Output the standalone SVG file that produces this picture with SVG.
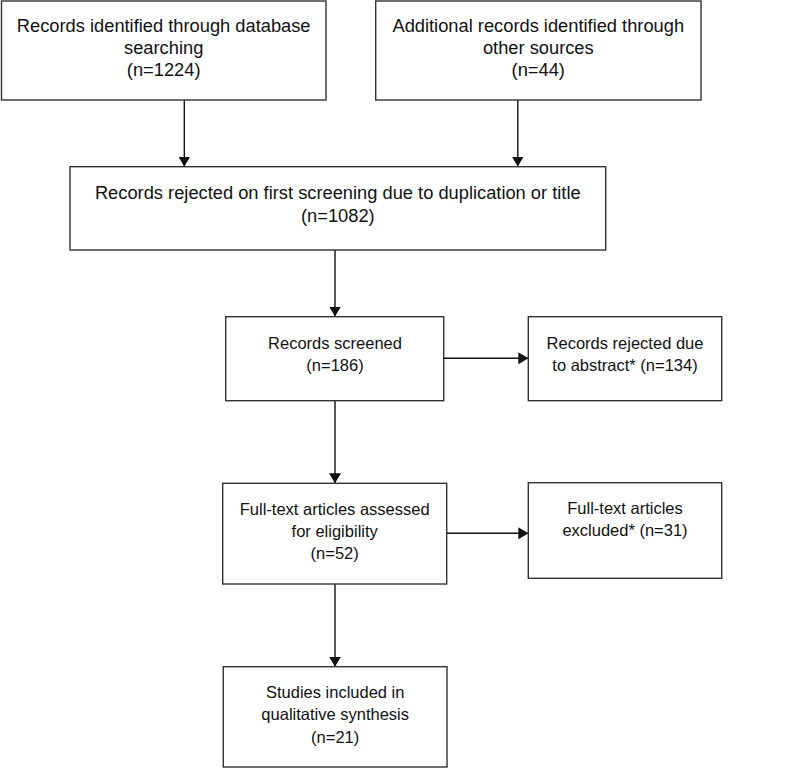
<svg xmlns="http://www.w3.org/2000/svg" width="785" height="768" viewBox="0 0 785 768">
<defs>
<style>
.box{fill:#fff;stroke:#333;stroke-width:1.4}
.t{font-family:"Liberation Sans",Arial,sans-serif;font-size:16.5px;fill:#111;text-anchor:middle}
.tl{font-size:18.3px}
.c{stroke:#111;stroke-width:1.4;fill:none;marker-end:url(#ah)}
</style>
<marker id="ah" viewBox="0 0 10 12" refX="10" refY="6" markerWidth="10" markerHeight="12" markerUnits="userSpaceOnUse" orient="auto">
<path d="M0,0 L10,6 L0,12 Z" fill="#111"/>
</marker>
</defs>
<rect width="785" height="768" fill="#fff"/>
<g id="connectors">
<line class="c" x1="184.3" y1="100" x2="184.3" y2="166.5"/>
<line class="c" x1="517.8" y1="100" x2="517.8" y2="166.5"/>
<line class="c" x1="335" y1="250" x2="335" y2="316.5"/>
<line class="c" x1="443.7" y1="358.3" x2="528.3" y2="358.3"/>
<line class="c" x1="335" y1="400.7" x2="335" y2="483.3"/>
<line class="c" x1="446.7" y1="533.3" x2="528.3" y2="533.3"/>
<line class="c" x1="335" y1="584" x2="335" y2="666.7"/>
</g>
<g id="n1">
<rect class="box" x="1.5" y="1" width="324.5" height="99"/>
<text class="t tl" x="163.7" y="32">Records identified through database</text>
<text class="t tl" x="163.7" y="54">searching</text>
<text class="t tl" x="163.7" y="76">(n=1224)</text>
</g>
<g id="n2">
<rect class="box" x="375.7" y="1" width="325.3" height="99"/>
<text class="t tl" x="538.3" y="32">Additional records identified through</text>
<text class="t tl" x="538.3" y="54">other sources</text>
<text class="t tl" x="538.3" y="76">(n=44)</text>
</g>
<g id="n3">
<rect class="box" x="70" y="166.7" width="535.7" height="83.3"/>
<text class="t tl" x="337.8" y="199">Records rejected on first screening due to duplication or title</text>
<text class="t tl" x="337.8" y="221.7">(n=1082)</text>
</g>
<g id="n4">
<rect class="box" x="225.7" y="316.7" width="218" height="84"/>
<text class="t" x="335" y="348.7">Records screened</text>
<text class="t" x="335" y="370.7">(n=186)</text>
</g>
<g id="n5">
<rect class="box" x="528.3" y="316.7" width="193.4" height="84"/>
<text class="t" x="625" y="348.7">Records rejected due</text>
<text class="t" x="625" y="370.7">to abstract* (n=134)</text>
</g>
<g id="n6">
<rect class="box" x="222.7" y="483.3" width="224" height="100.7"/>
<text class="t" x="334.7" y="515">Full-text articles assessed</text>
<text class="t" x="334.7" y="537">for eligibility</text>
<text class="t" x="334.7" y="559.3">(n=52)</text>
</g>
<g id="n7">
<rect class="box" x="528.3" y="482.7" width="193.4" height="95.6"/>
<text class="t" x="625" y="514">Full-text articles</text>
<text class="t" x="625" y="536">excluded* (n=31)</text>
</g>
<g id="n8">
<rect class="box" x="223.3" y="666.7" width="223.7" height="100.3"/>
<text class="t" x="335.2" y="698.3">Studies included in</text>
<text class="t" x="335.2" y="720">qualitative synthesis</text>
<text class="t" x="335.2" y="742.7">(n=21)</text>
</g>
</svg>
